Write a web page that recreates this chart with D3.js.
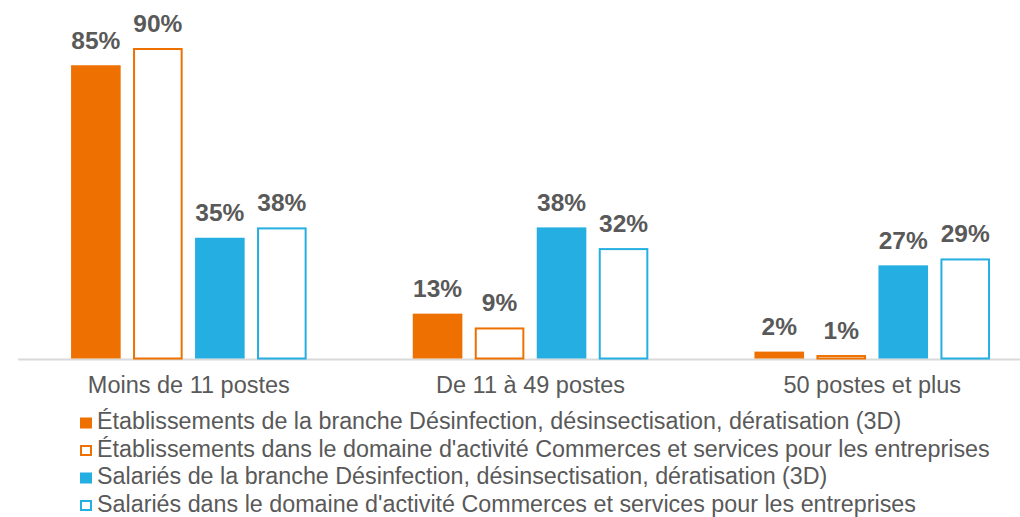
<!DOCTYPE html>
<html>
<head>
<meta charset="utf-8">
<script src="https://cdn.jsdelivr.net/npm/d3@7"></script>
<style>
  body { margin: 0; background: #fff; }
  svg { display: block; font-family: Arial, "Liberation Sans", sans-serif; }
</style>
</head>
<body>
<div id="chart"></div>
<script>
var w = 1020, h = 517;

// data
var categories = ["Moins de 11 postes", "De 11 à 49 postes", "50 postes et plus"];
var seriesNames = [
    "Établissements de la branche Désinfection, désinsectisation, dératisation (3D)",
    "Établissements dans le domaine d'activité Commerces et services pour les entreprises",
    "Salariés de la branche Désinfection, désinsectisation, dératisation (3D)",
    "Salariés dans le domaine d'activité Commerces et services pour les entreprises"
];
var etabBranche = [85, 13, 2];
var etabDomaine = [90, 9, 1];
var salBranche = [35, 38, 27];
var salDomaine = [38, 32, 29];

var orange = "#ED7000", blue = "#25AEE2", textGrey = "#595959";
var seriesColor = [orange, orange, blue, blue];
var seriesFilled = [true, false, true, false];
var seriesValues = [etabBranche, etabDomaine, salBranche, salDomaine];

var svg = d3.select("#chart")
    .append("svg")
    .attr("width", w)
    .attr("height", h);

var groupW = 341.7;
var x0 = d3.scaleBand()
    .domain(categories)
    .range([18, 18 + groupW * categories.length]);

var x1 = d3.scaleBand()
    .domain(d3.range(seriesNames.length))
    .range([0, groupW])
    .paddingInner(0.2)
    .paddingOuter(0.856);

var y = d3.scaleLinear()
    .domain([0, 100])
    .range([358.5, 13.5]);

// rows: one per category x series
var rows = [];
categories.forEach(function (c, i) {
    seriesValues.forEach(function (vals, s) {
        rows.push({ cat: c, s: s, value: vals[i] });
    });
});

// baseline
svg.append("line")
    .attr("x1", 18)
    .attr("x2", w)
    .attr("y1", 359.5)
    .attr("y2", 359.5)
    .style("stroke", "#D9D9D9")
    .style("stroke-width", 2);

var bars = svg.append("g");

bars.selectAll("rect")
    .data(rows)
    .enter()
    .append("rect")
    .attr("x", (d) => x0(d.cat) + x1(d.s) + (seriesFilled[d.s] ? 0 : 1))
    .attr("y", (d) => y(d.value) + (seriesFilled[d.s] ? 0 : 1))
    .attr("width", (d) => x1.bandwidth() - (seriesFilled[d.s] ? 0 : 2))
    .attr("height", (d) => y(0) - y(d.value) - (seriesFilled[d.s] ? 0 : 1))
    .style("fill", (d) => seriesFilled[d.s] ? seriesColor[d.s] : "#fff")
    .style("stroke", (d) => seriesFilled[d.s] ? "none" : seriesColor[d.s])
    .style("stroke-width", 2);

// value labels
svg.selectAll(".valueLabel")
    .data(rows)
    .enter()
    .append("text")
    .attr("class", "valueLabel")
    .attr("x", (d) => x0(d.cat) + x1(d.s) + x1.bandwidth() / 2)
    .attr("y", (d) => y(d.value) - 16.5)
    .attr("text-anchor", "middle")
    .attr("font-size", "24.5px")
    .attr("font-weight", "bold")
    .attr("fill", textGrey)
    .text((d) => d.value + "%");

// category labels
svg.selectAll(".catLabel")
    .data(categories)
    .enter()
    .append("text")
    .attr("class", "catLabel")
    .attr("x", (d) => x0(d) + groupW / 2)
    .attr("y", 393)
    .attr("text-anchor", "middle")
    .attr("font-size", "23.5px")
    .attr("fill", textGrey)
    .text((d) => d);

// legend
var legend = svg.selectAll(".legendItem")
    .data(seriesNames)
    .enter()
    .append("g")
    .attr("class", "legendItem")
    .attr("transform", (d, i) => `translate(80, ${423 + i * 27.5})`);

legend.append("rect")
    .attr("x", (d, i) => seriesFilled[i] ? 0 : 1)
    .attr("y", (d, i) => seriesFilled[i] ? -5.5 : -4.5)
    .attr("width", (d, i) => seriesFilled[i] ? 12 : 10)
    .attr("height", (d, i) => seriesFilled[i] ? 11 : 9)
    .style("fill", (d, i) => seriesFilled[i] ? seriesColor[i] : "#fff")
    .style("stroke", (d, i) => seriesFilled[i] ? "none" : seriesColor[i])
    .style("stroke-width", 2);

legend.append("text")
    .attr("x", 17)
    .attr("y", 6)
    .attr("font-size", "23.3px")
    .attr("fill", textGrey)
    .text((d) => d);
</script>
</body>
</html>
